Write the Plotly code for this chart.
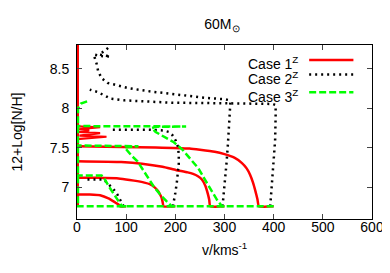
import plotly.graph_objects as go

# ---------------- data ----------------
x_ticks = [0, 100, 200, 300, 400, 500, 600]
y_ticks = [7, 7.5, 8, 8.5]
y_tick_labels = ["7", "7.5", "8", "8.5"]

legend_labels = ["Case 1<sup>Z</sup>", "Case 2<sup>Z</sup>", "Case 3<sup>Z</sup>"]

# Case 1 (red solid)
c1_v0_v = [1.5, 1.5]
c1_v0_n = [6.76, 8.9]
c1_v100_v = [100, 88, 85, 80, 75, 64, 47, 26, 0]
c1_v100_n = [6.76, 6.76, 6.78, 6.80, 6.82, 6.86, 6.90, 6.91, 6.91]
c1_v200_v = [200, 176, 174, 172, 169, 164, 158, 148, 137, 116, 88, 40, 0]
c1_v200_n = [6.76, 6.76, 6.82, 6.87, 6.91, 6.96, 7.00, 7.04, 7.06, 7.085, 7.11, 7.12, 7.12]
c1_v300_v = [300, 271, 269, 266, 261, 254, 246, 236, 225, 201, 174, 132, 90, 0]
c1_v300_n = [6.76, 6.76, 6.84, 6.92, 7.02, 7.10, 7.14, 7.17, 7.19, 7.22, 7.26, 7.30, 7.32, 7.33]
c1_v400_v = [400, 370, 367, 363, 358, 352, 345, 335, 320, 300, 280, 250, 229, 160, 90, 0]
c1_v400_n = [6.76, 6.76, 6.85, 6.95, 7.06, 7.16, 7.24, 7.31, 7.375, 7.42, 7.45, 7.475, 7.49, 7.505, 7.51, 7.52]
c1_late_v = [0, 60, 5, 47, 3, 25, 3, 47, 0]
c1_late_n = [7.61, 7.64, 7.655, 7.685, 7.70, 7.72, 7.735, 7.76, 7.77]

# Case 2 (black dotted)
c2_v100_v = [95, 92, 88, 82, 75, 64, 54, 40, 19]
c2_v100_n = [6.76, 6.80, 6.84, 6.91, 6.97, 7.04, 7.10, 7.10, 7.10]
c2_v200_v = [195, 197, 200, 203, 205, 207, 207, 205, 201, 194, 187, 175, 150, 100, 68]
c2_v200_n = [6.76, 6.82, 6.93, 7.06, 7.20, 7.30, 7.42, 7.52, 7.59, 7.66, 7.70, 7.72, 7.73, 7.735, 7.73]
c2_v300_v = [296, 300, 304, 307, 309, 311, 312, 308, 300, 264, 236, 208, 180, 153, 125, 104,
             76, 62, 50, 43, 40, 36, 34, 50, 68, 45, 57, 68]
c2_v300_n = [6.76, 7.0, 7.3, 7.55, 7.8, 8.0, 8.08, 8.105, 8.115, 8.13, 8.15, 8.165, 8.19, 8.21, 8.235, 8.256,
             8.30, 8.32, 8.38, 8.47, 8.56, 8.64, 8.68, 8.66, 8.655, 8.68, 8.73, 8.79]
c2_v400_v = [393, 396, 400, 403, 404, 404, 398, 313, 264, 194, 125, 97, 69, 58, 50, 45, 35, 26]
c2_v400_n = [6.76, 7.0, 7.3, 7.6, 7.9, 8.04, 8.055, 8.057, 8.066, 8.07, 8.09, 8.10, 8.12, 8.15, 8.18, 8.20, 8.22, 8.235]

# Case 3 (green dashed)
c3_v100_v = [100, 92, 85, 75, 64, 54, 50, 0]
c3_v100_n = [6.76, 6.76, 6.82, 6.91, 7.02, 7.13, 7.15, 7.15]
c3_v200_v = [200, 193, 183, 169, 155, 141, 127, 123, 111, 100, 97, 125, 0]
c3_v200_n = [6.76, 6.76, 6.82, 6.91, 7.02, 7.15, 7.28, 7.33, 7.40, 7.48, 7.505, 7.52, 7.53]
c3_v300_v = [300, 295, 285, 272, 259, 247, 230, 214, 197, 176, 160, 152, 160, 222, 100, 0]
c3_v300_n = [6.76, 6.76, 6.84, 6.97, 7.11, 7.24, 7.37, 7.48, 7.57, 7.64, 7.70, 7.75, 7.765, 7.77, 7.775, 7.775]
c3_v400_v = [400, 0, 2, 2, 8, 22]
c3_v400_n = [6.76, 6.76, 6.80, 8.00, 8.06, 8.09]

# ---------------- figure ----------------
RED = "#ff0000"
BLACK = "#000000"
GREEN = "#00ff00"
FONT = "Liberation Sans, Arial, sans-serif"

fig = go.Figure()

red_smooth = [(c1_v0_v, c1_v0_n), (c1_v100_v, c1_v100_n), (c1_v200_v, c1_v200_n),
              (c1_v300_v, c1_v300_n), (c1_v400_v, c1_v400_n)]
black_tracks = [(c2_v100_v, c2_v100_n), (c2_v200_v, c2_v200_n),
                (c2_v300_v, c2_v300_n), (c2_v400_v, c2_v400_n)]
green_tracks = [(c3_v100_v, c3_v100_n), (c3_v200_v, c3_v200_n),
                (c3_v300_v, c3_v300_n), (c3_v400_v, c3_v400_n)]

for vx, ny in red_smooth:
    fig.add_trace(go.Scatter(x=vx, y=ny, mode="lines", showlegend=False,
                             line=dict(color=RED, width=2.5, shape="spline", smoothing=0.4)))
fig.add_trace(go.Scatter(x=c1_late_v, y=c1_late_n, mode="lines", showlegend=False,
                         line=dict(color=RED, width=2.2)))
for vx, ny in black_tracks:
    fig.add_trace(go.Scatter(x=vx, y=ny, mode="lines", showlegend=False,
                             line=dict(color=BLACK, width=2.5, dash="2px,4px")))
for vx, ny in green_tracks:
    fig.add_trace(go.Scatter(x=vx, y=ny, mode="lines", showlegend=False,
                             line=dict(color=GREEN, width=2.5, dash="7px,3px")))

# legend drawn gnuplot-style: text right-aligned, sample line to the right
leg_y = [0.914, 0.83, 0.729]
leg_styles = [dict(color=RED, width=2.5), dict(color=BLACK, width=2.5, dash="2px,4px"),
              dict(color=GREEN, width=2.5, dash="7px,3px")]
for lbl, yy, st in zip(legend_labels, leg_y, leg_styles):
    fig.add_annotation(x=0.755, y=yy - 0.02, xref="paper", yref="paper", text=lbl,
                       showarrow=False, xanchor="right", yanchor="middle",
                       font=dict(family=FONT, size=14, color="black"))
    fig.add_shape(type="line", xref="paper", yref="paper", x0=0.787, x1=0.937, y0=yy, y1=yy,
                  line=st)

# axis titles as annotations for exact placement
fig.add_annotation(x=0.5, y=-0.175, xref="paper", yref="paper", text="v/kms<sup>-1</sup>",
                   showarrow=False, xanchor="center", yanchor="middle",
                   font=dict(family=FONT, size=14, color="black"))
fig.add_annotation(x=-0.205, y=0.5, xref="paper", yref="paper", text="12+Log[N/H]",
                   showarrow=False, xanchor="center", yanchor="middle", textangle=-90,
                   font=dict(family=FONT, size=14, color="black"))

# the page body adds an 8px offset, so the figure is 8px smaller and margins are shifted
fig.update_layout(
    width=382, height=265,
    margin=dict(l=69, r=18, t=37, b=54),
    paper_bgcolor="white", plot_bgcolor="white",
    font=dict(family=FONT, size=14, color="black"),
    title=dict(text="60M<sub>⊙</sub>", x=0.56, xanchor="center", y=0.94, yanchor="middle",
               font=dict(family=FONT, size=14)),
    showlegend=False,
)
fig.update_xaxes(range=[0, 600], tickvals=x_ticks, ticks="inside", ticklen=5,
                 showline=True, linecolor="black", linewidth=1, mirror="ticks",
                 showgrid=False, zeroline=False, automargin=False, ticklabelstandoff=-5)
fig.update_yaxes(range=[6.6, 8.8], tickvals=y_ticks, ticktext=y_tick_labels, ticks="inside", ticklen=5,
                 showline=True, linecolor="black", linewidth=1, mirror="ticks",
                 showgrid=False, zeroline=False, automargin=False, ticklabelstandoff=4)

fig.write_html("out.html")
